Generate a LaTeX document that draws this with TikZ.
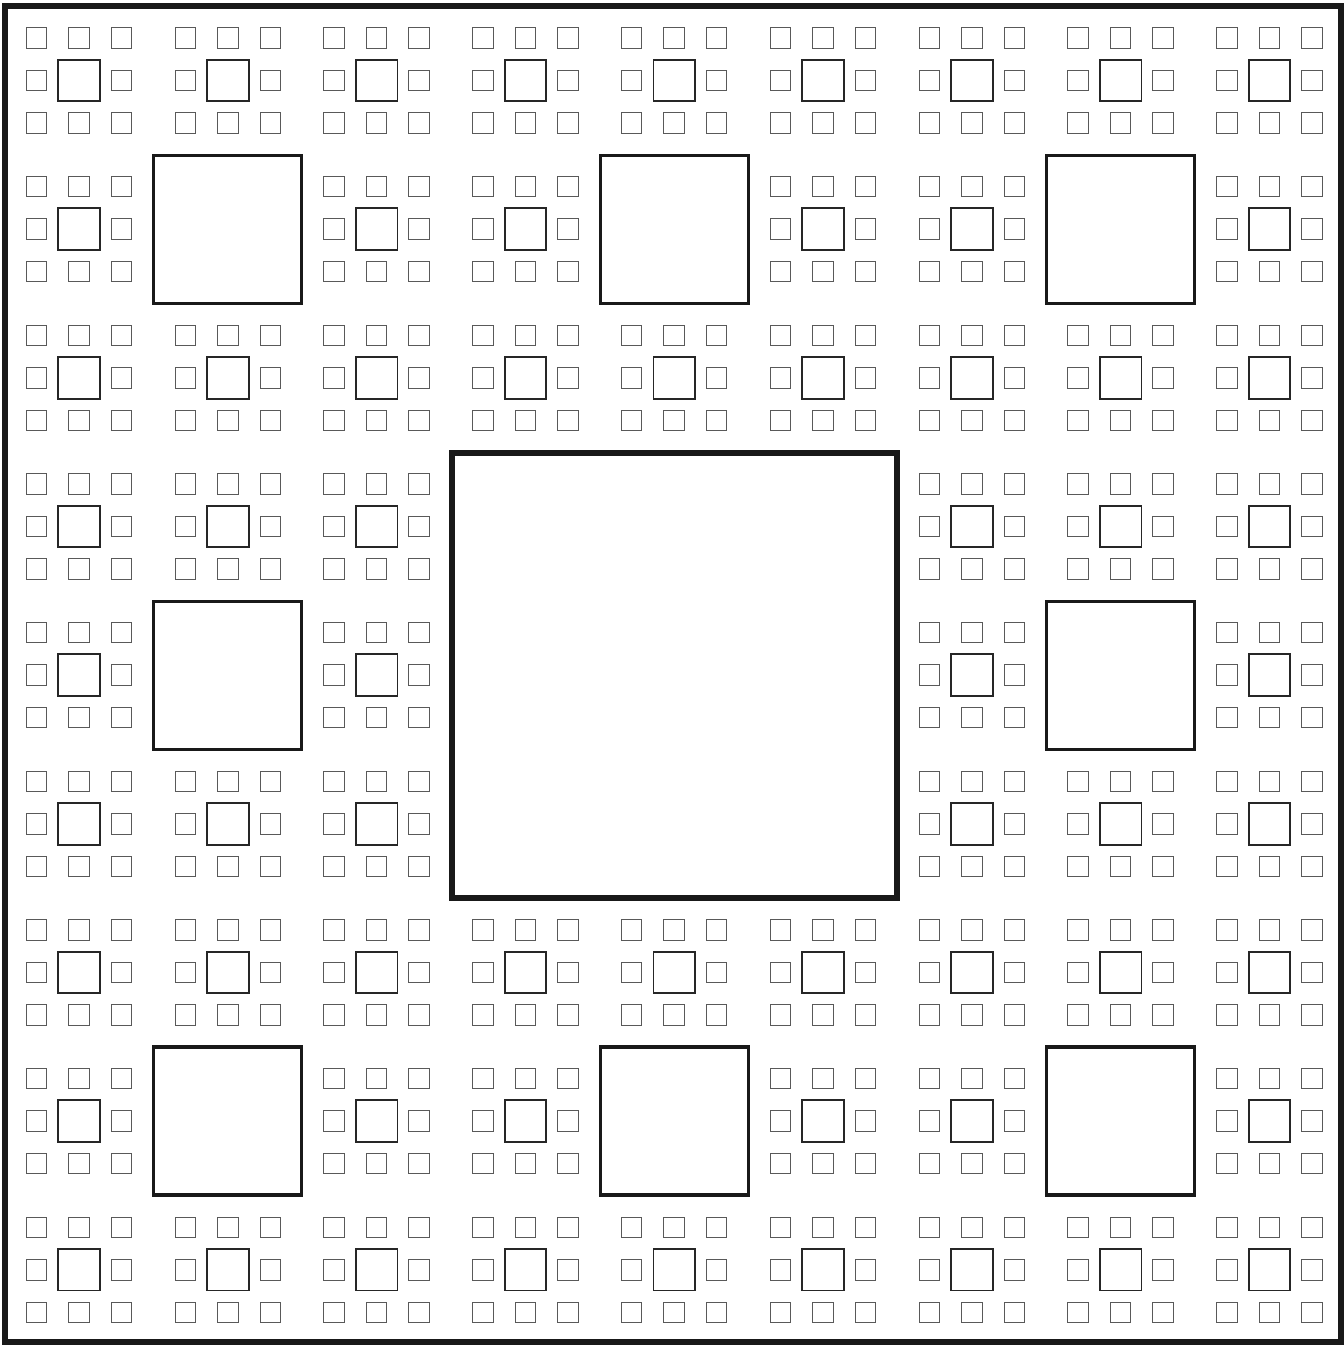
\documentclass[tikz,border=0pt]{standalone}
\begin{document}
\begin{tikzpicture}[x=1pt,y=-1pt,
  outer/.style={line width=6pt,black!90},
  lvltwo/.style={line width=3.3pt,black!90},
  lvlthree/.style={line width=1.8pt,black!85},
  lvlfour/.style={line width=1pt,black!65}]
\useasboundingbox (0,0) rectangle (1344,1345);
\fill[white] (0,0) rectangle (1344,1345);
% outer square
\draw[outer] (5,6) rectangle (1341,1342);
% central square
\draw[outer] (451.7,452.6) rectangle (896.7,897.6);
\foreach \i in {0,...,8}{
  \foreach \j in {0,...,8}{
    \pgfmathtruncatemacro{\inner}{(\i>2)*(\i<6)*(\j>2)*(\j<6)}
    \pgfmathtruncatemacro{\mid}{(mod(\i,3)==1)*(mod(\j,3)==1)}
    \pgfmathsetmacro{\cx}{79+\i*148.8}
    \pgfmathsetmacro{\cy}{80.5+\j*148.66}
    \ifnum\inner=1\relax\else
      \ifnum\mid=1\relax
        \draw[lvltwo] (\cx-74,\cy-74) rectangle (\cx+74,\cy+74);
      \else
        \draw[lvlthree] (\cx-20.8,\cy-20.8) rectangle (\cx+20.8,\cy+20.8);
        \foreach \a in {-1,0,1}{
          \foreach \b in {-1,0,1}{
            \pgfmathtruncatemacro{\z}{abs(\a)+abs(\b)}
            \ifnum\z>0\relax
              \draw[lvlfour] (\cx+\a*42.5-10.25,\cy+\b*42.5-10.25) rectangle (\cx+\a*42.5+10.25,\cy+\b*42.5+10.25);
            \fi
          }
        }
      \fi
    \fi
  }
}
\end{tikzpicture}
\end{document}
